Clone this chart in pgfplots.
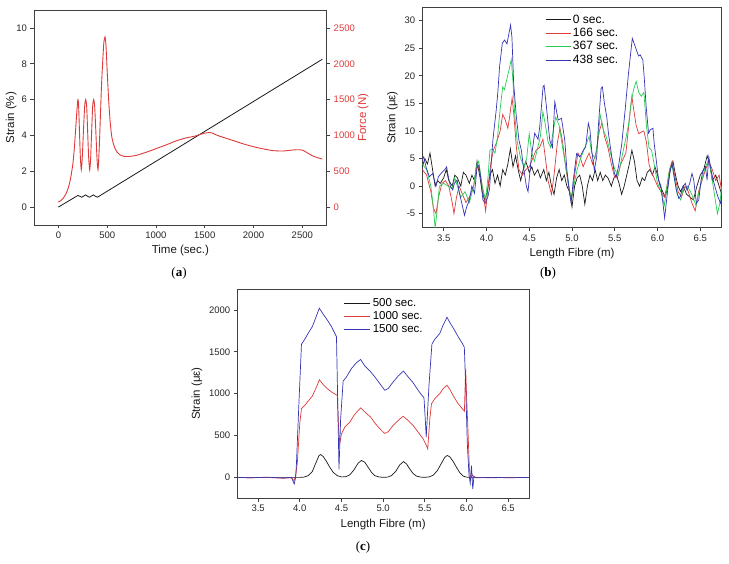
\documentclass[border=0pt]{standalone}
\usepackage{pgfplots}
\pgfplotsset{compat=1.18}
\usepackage{fontspec}
\setmainfont{Liberation Sans}
\newfontfamily\seriffont{Liberation Serif}
\definecolor{cred}{RGB}{222,58,58}
\definecolor{cblue}{RGB}{52,52,180}
\definecolor{cgreen}{RGB}{40,205,85}
\definecolor{cblk}{RGB}{25,25,25}
\pgfplotsset{
  myax/.style={scale only axis, tick align=outside, xtick pos=left, ytick pos=left,
    major tick length=3.5pt,
    /pgf/number format/assume math mode=true, /pgf/number format/1000 sep={},
    tick label style={font=\fontsize{9.5}{11}\selectfont, text=black!85},
    label style={font=\fontsize{11.5}{13}\selectfont, text=black!90},
    axis line style={black!75, line width=0.7pt},
    tick style={black!75, line width=0.7pt}},
  fibx/.style={xmin=3.25, xmax=6.75, xtick={3.5,4,...,6.5},
    xticklabel style={/pgf/number format/.cd, fixed, fixed zerofill, precision=1},
    xlabel={Length Fibre (m)}, ylabel={Strain (με)}},
}
\begin{document}
\begin{tikzpicture}
\useasboundingbox (0pt,0pt) rectangle (729pt,564pt);
% ---------------- (a) ----------------
\begin{axis}[myax, at={(34pt,339pt)}, anchor=south west, width=292.7pt, height=215pt,
  xmin=-250, xmax=2750, ymin=-1, ymax=11, xtick={0,500,...,2500}, ytick={0,2,...,10},
  xlabel={Time (sec.)}, ylabel={Strain (\%)}, ylabel shift=-7pt]
\addplot[cblk, line width=0.8pt] coordinates {(0,0) (200,0.65) (220,0.6) (240,0.55) (260,0.62) (280,0.68) (300,0.6) (320,0.55) (340,0.62) (360,0.68) (380,0.6) (400,0.55) (2705,8.25)};
\end{axis}
\begin{axis}[myax, at={(34pt,339pt)}, anchor=south west, width=292.7pt, height=215pt,
  axis y line*=right, axis x line=none, ytick pos=right, yticklabel pos=right,
  xmin=-250, xmax=2750, ymin=-250, ymax=2750,
  ytick={0,500,...,2500}, yticklabel style={text=cred}, ylabel={Force (N)}, ylabel style={text=cred}, ylabel shift=-4pt]
\addplot[cred, line width=0.9pt, smooth, tension=0.4] coordinates {(0,70) (25,90) (50,125) (75,180) (100,260) (125,400) (150,620) (165,850) (180,1150) (190,1350) (200,1500) (207,1420) (215,1100) (225,700) (235,520) (245,700) (258,1100) (270,1420) (280,1500) (290,1400) (300,1050) (310,700) (321,520) (331,700) (342,1100) (352,1420) (362,1500) (372,1400) (384,1050) (395,700) (406,520) (418,800) (430,1250) (442,1700) (455,2050) (466,2300) (478,2375) (488,2250) (500,1900) (515,1500) (530,1200) (545,1000) (560,900) (580,820) (600,770) (630,730) (660,712) (700,705) (750,710) (800,722) (900,765) (1000,815) (1100,865) (1200,920) (1300,962) (1400,990) (1450,1012) (1500,1032) (1550,1040) (1580,1032) (1620,1005) (1700,968) (1800,925) (1900,880) (2000,842) (2100,812) (2200,788) (2300,782) (2400,796) (2450,800) (2500,795) (2550,758) (2600,718) (2650,692) (2705,670)};
\end{axis}
\node[font=\seriffont\fontsize{13}{15}\selectfont] at (179pt,291pt) {(\textbf{a})};
% ---------------- (b) ----------------
\begin{axis}[myax, fibx, at={(422.3pt,336.3pt)}, anchor=south west, width=299.4pt, height=220.4pt,
  ymin=-7.54, ymax=32.43, ytick={-5,0,...,30}, legend cell align=left,
  legend style={draw=none, fill=none, at={(0.4,0.985)}, anchor=north west,
    font=\fontsize{12}{14.5}\selectfont, row sep=-0.5pt},
  legend image code/.code={\draw[#1] (0pt,0pt) -- (25pt,0pt);}]
\addplot[cblk, line width=0.7pt] coordinates {(3.25,3.5) (3.28,5) (3.31,4) (3.34,6) (3.37,3) (3.4,0) (3.43,1) (3.46,0.5) (3.5,1.5) (3.53,3) (3.56,1) (3.6,0) (3.63,2) (3.66,1.5) (3.7,0) (3.73,2.5) (3.76,2) (3.8,0.5) (3.83,2) (3.86,1) (3.89,4.5) (3.92,2) (3.95,-1) (3.98,-2.5) (4.01,-1) (4.04,2) (4.07,3) (4.1,0.5) (4.13,2) (4.16,0) (4.19,3) (4.22,2) (4.25,4) (4.28,6.8) (4.31,3.5) (4.34,5.5) (4.37,3) (4.4,1) (4.43,3) (4.46,4.5) (4.5,2.5) (4.53,3.5) (4.56,2) (4.6,3) (4.63,1.5) (4.67,3) (4.7,1) (4.73,2.5) (4.76,0) (4.79,-1.5) (4.82,1.5) (4.85,3) (4.88,1) (4.91,2) (4.94,0) (4.97,-1) (5.0,-3.8) (5.03,0) (5.06,1.5) (5.09,2) (5.12,0) (5.15,-3.3) (5.18,0) (5.21,2) (5.24,1) (5.27,3) (5.3,1) (5.33,2.5) (5.36,1) (5.39,2) (5.42,1.5) (5.46,0) (5.49,1.5) (5.52,2) (5.55,0.5) (5.58,-1.5) (5.61,0) (5.64,2) (5.67,4) (5.7,6.5) (5.73,4.5) (5.76,1) (5.79,0) (5.82,1.5) (5.85,1) (5.88,2.5) (5.91,3) (5.94,2) (5.97,3.5) (6.0,2) (6.03,0) (6.06,-1) (6.09,-2) (6.12,0) (6.15,3) (6.18,4.5) (6.21,2) (6.24,0) (6.27,-1) (6.3,0) (6.34,-1.5) (6.38,-2) (6.42,-2.5) (6.46,0) (6.5,2) (6.54,3) (6.58,5.5) (6.61,4) (6.64,1) (6.68,2) (6.72,0) (6.75,-1.5)};
\addlegendentry{0 sec.}
\addplot[cred, line width=0.7pt] coordinates {(3.25,3) (3.3,2) (3.35,-1) (3.38,-4) (3.41,-5) (3.44,-2) (3.48,0.5) (3.52,1) (3.56,0) (3.6,-3) (3.62,-5) (3.65,-2) (3.68,0) (3.72,-1.5) (3.76,-3) (3.8,-2) (3.85,0) (3.89,3.5) (3.92,3) (3.96,-1) (3.99,-4.5) (4.02,0) (4.05,4) (4.08,6.5) (4.12,8) (4.16,10) (4.19,13) (4.22,12) (4.25,10.5) (4.27,12.5) (4.3,16) (4.32,13) (4.35,7) (4.38,3) (4.42,2) (4.46,3) (4.5,3.5) (4.54,5) (4.58,6.5) (4.62,7) (4.66,8.5) (4.69,5) (4.72,1) (4.76,-1.5) (4.79,2) (4.83,8) (4.86,10.5) (4.89,8) (4.93,3) (4.97,-1) (5.0,-2) (5.03,2) (5.07,6) (5.1,5) (5.13,3.5) (5.17,5) (5.2,6) (5.24,4) (5.28,6) (5.32,10) (5.35,11.5) (5.38,9) (5.42,7) (5.46,4) (5.5,1.5) (5.53,1.5) (5.57,4) (5.6,5) (5.63,6) (5.67,12) (5.7,16.3) (5.72,14) (5.75,11) (5.78,9.5) (5.81,9.8) (5.84,10) (5.87,8) (5.9,4) (5.93,2.5) (5.96,1.5) (6.0,0) (6.04,-1) (6.08,-2) (6.11,0) (6.14,3) (6.17,4.5) (6.2,2) (6.24,-1) (6.28,-2) (6.32,0) (6.36,-1) (6.4,-3) (6.44,-4.5) (6.48,-1) (6.52,1) (6.56,3) (6.6,4.5) (6.64,3) (6.68,1) (6.72,2) (6.75,-1)};
\addlegendentry{166 sec.}
\addplot[cgreen, line width=0.7pt] coordinates {(3.25,4) (3.3,3) (3.35,0) (3.38,-4) (3.4,-7.6) (3.42,-5) (3.45,0) (3.5,0.5) (3.55,0) (3.6,-0.5) (3.63,1.5) (3.66,0) (3.7,-2) (3.75,-1) (3.8,-3) (3.85,0) (3.88,3.5) (3.91,4.5) (3.95,0) (3.99,-2.5) (4.02,2) (4.04,6.5) (4.07,6.7) (4.1,6) (4.13,9) (4.16,14) (4.19,18) (4.21,17.5) (4.24,19.5) (4.27,21.5) (4.29,23) (4.31,19) (4.33,13) (4.36,8) (4.4,5) (4.44,3.5) (4.47,5) (4.5,9.5) (4.53,6) (4.56,4.5) (4.6,7) (4.63,9) (4.66,13.5) (4.69,11) (4.72,8) (4.75,7) (4.78,10) (4.81,12.5) (4.85,11) (4.9,6) (4.95,1.5) (4.99,-2.5) (5.02,0) (5.06,3) (5.1,5) (5.15,7) (5.2,9) (5.23,6) (5.27,5) (5.3,8) (5.33,12.9) (5.37,10) (5.4,9) (5.45,6) (5.5,3) (5.54,2) (5.58,5) (5.62,8) (5.66,11) (5.69,15) (5.72,17.5) (5.75,19) (5.78,17) (5.81,16.3) (5.84,17) (5.87,11) (5.9,7) (5.93,6.5) (5.96,4) (6.0,0.5) (6.04,-1) (6.08,-3.5) (6.11,0) (6.14,3) (6.17,4) (6.2,1) (6.23,-1.5) (6.27,-2.5) (6.3,-0.5) (6.35,0) (6.4,-1.5) (6.45,-3.5) (6.5,0) (6.55,3) (6.6,5) (6.63,2) (6.67,-2) (6.7,-5) (6.73,-3) (6.75,0)};
\addlegendentry{367 sec.}
\addplot[cblue, line width=0.7pt] coordinates {(3.242,4.7) (3.266,5.3) (3.293,3.5) (3.332,1.7) (3.371,2.3) (3.41,0) (3.438,1.7) (3.469,2.3) (3.508,2.9) (3.535,3.5) (3.547,2.3) (3.578,0) (3.606,-0.7) (3.625,0.5) (3.657,1.1) (3.684,-1.3) (3.712,-3.1) (3.743,-5.3) (3.77,-3.7) (3.801,-2.5) (3.829,0) (3.86,-1.3) (3.891,3.5) (3.911,3.8) (3.931,1.7) (3.958,-2.5) (3.985,-3.1) (4.017,-1.9) (4.036,-0.5) (4.055,4) (4.075,8.3) (4.094,11) (4.114,13.8) (4.133,17) (4.153,21.6) (4.185,25.9) (4.212,26.5) (4.24,25.8) (4.263,27.7) (4.282,29.2) (4.298,27) (4.318,18.6) (4.349,12.6) (4.38,8.3) (4.408,6.5) (4.427,4.1) (4.466,0) (4.486,-1) (4.525,5.3) (4.564,9.6) (4.603,8.5) (4.623,10.8) (4.662,18) (4.674,18.3) (4.701,14.4) (4.74,8.3) (4.771,7) (4.799,15.3) (4.838,12) (4.877,12.3) (4.916,8.3) (4.94,3) (4.965,-0.5) (4.99,-3) (5.015,1.1) (5.054,5.9) (5.093,5.3) (5.132,6.5) (5.16,7.1) (5.191,11.4) (5.21,10.2) (5.23,6.5) (5.261,2.9) (5.289,5.3) (5.308,10.8) (5.34,17.7) (5.355,18) (5.379,15) (5.406,12.6) (5.426,9.6) (5.465,5.3) (5.496,2.3) (5.516,1.7) (5.543,3.5) (5.582,7.7) (5.621,13.8) (5.66,20.4) (5.705,26.8) (5.739,25.3) (5.778,23.6) (5.797,23.8) (5.828,22.9) (5.844,19.8) (5.867,14.4) (5.895,9.6) (5.914,10.2) (5.946,10.5) (5.961,7.7) (5.985,4.7) (6.012,1.1) (6.04,0) (6.063,-3.1) (6.083,-5.8) (6.11,-1.9) (6.141,2.3) (6.169,4.1) (6.188,2.3) (6.22,-0.7) (6.247,-2.2) (6.266,-1.9) (6.298,0) (6.325,0.5) (6.345,-0.7) (6.376,0.5) (6.403,2.3) (6.423,1.1) (6.454,-3.1) (6.482,-2.5) (6.509,1.1) (6.532,2.9) (6.56,3.5) (6.579,1.1) (6.599,5.3) (6.618,3.5) (6.65,1.1) (6.677,-0.4) (6.705,-1.9) (6.736,-3.1) (6.755,-1.9)};
\addlegendentry{438 sec.}
\end{axis}
\node[font=\seriffont\fontsize{13}{15}\selectfont] at (548pt,291pt) {(\textbf{b})};
% ---------------- (c) ----------------
\begin{axis}[myax, fibx, at={(237.3pt,65.7pt)}, anchor=south west, width=291.7pt, height=209.3pt,
  ymin=-250, ymax=2250, ytick={0,500,...,2000}, legend cell align=left,
  legend style={draw=none, fill=none, at={(0.355,0.975)}, anchor=north west,
    font=\fontsize{11.5}{13.7}\selectfont, row sep=-0.5pt},
  legend image code/.code={\draw[#1] (0pt,0pt) -- (26pt,0pt);}]
\addplot[cblk, line width=0.7pt] coordinates {(3.25,0) (3.5,0) (3.8,0) (4.0,0) (4.05,3) (4.1,20) (4.15,70) (4.2,190) (4.23,260) (4.25,272) (4.28,250) (4.32,190) (4.36,120) (4.4,60) (4.45,20) (4.5,5) (4.55,8) (4.6,30) (4.65,90) (4.7,170) (4.74,202) (4.78,180) (4.82,120) (4.86,60) (4.9,20) (4.95,5) (5.0,0) (5.05,3) (5.1,20) (5.15,70) (5.2,150) (5.245,188) (5.28,160) (5.32,100) (5.36,45) (5.4,15) (5.45,3) (5.5,0) (5.55,5) (5.6,25) (5.65,80) (5.7,170) (5.74,240) (5.77,262) (5.8,245) (5.84,190) (5.88,120) (5.92,55) (5.96,15) (6.0,3) (6.05,0) (6.75,0)};
\addlegendentry{500 sec.}
\addplot[cred, line width=0.7pt] coordinates {(3.25,0) (3.4,-5) (3.6,0) (3.8,-10) (3.9,-5) (3.93,-40) (3.95,20) (3.97,170) (4.0,650) (4.02,820) (4.06,860) (4.1,910) (4.15,970) (4.2,1080) (4.235,1165) (4.28,1110) (4.33,1060) (4.38,1020) (4.43,990) (4.45,980) (4.465,600) (4.48,405) (4.5,520) (4.54,600) (4.6,660) (4.65,740) (4.7,800) (4.73,830) (4.78,780) (4.85,720) (4.9,650) (4.95,590) (5.0,540) (5.02,525) (5.06,545) (5.12,620) (5.18,680) (5.24,730) (5.3,680) (5.36,620) (5.42,540) (5.48,460) (5.52,380) (5.535,340) (5.56,700) (5.58,880) (5.62,940) (5.68,1000) (5.72,1060) (5.766,1100) (5.8,1050) (5.85,960) (5.9,880) (5.95,820) (5.975,790) (5.99,1300) (6.0,1000) (6.02,500) (6.035,100) (6.05,-20) (6.07,30) (6.1,0) (6.3,-5) (6.5,0) (6.75,0)};
\addlegendentry{1000 sec.}
\addplot[cblue, line width=0.7pt] coordinates {(3.25,0) (3.4,-5) (3.6,2) (3.8,-8) (3.9,0) (3.933,-80) (3.95,0) (3.96,170) (3.99,900) (4.02,1590) (4.06,1650) (4.1,1720) (4.15,1800) (4.2,1930) (4.234,2020) (4.28,1950) (4.33,1880) (4.38,1800) (4.42,1720) (4.44,1680) (4.455,900) (4.47,95) (4.49,700) (4.52,1150) (4.56,1200) (4.62,1300) (4.68,1370) (4.73,1408) (4.78,1330) (4.85,1260) (4.9,1200) (4.96,1120) (5.02,1040) (5.06,1060) (5.12,1140) (5.18,1210) (5.244,1270) (5.3,1200) (5.36,1130) (5.42,1040) (5.465,980) (5.49,950) (5.505,700) (5.517,480) (5.55,1100) (5.585,1590) (5.62,1650) (5.68,1720) (5.72,1820) (5.766,1912) (5.8,1850) (5.85,1770) (5.9,1680) (5.95,1600) (5.974,1555) (5.99,1100) (6.01,400) (6.03,30) (6.045,-70) (6.06,140) (6.075,-140) (6.09,10) (6.12,-5) (6.3,0) (6.5,-5) (6.75,0)};
\addlegendentry{1500 sec.}
\end{axis}
\node[font=\seriffont\fontsize{13}{15}\selectfont] at (363pt,17pt) {(\textbf{c})};
\end{tikzpicture}
\end{document}
